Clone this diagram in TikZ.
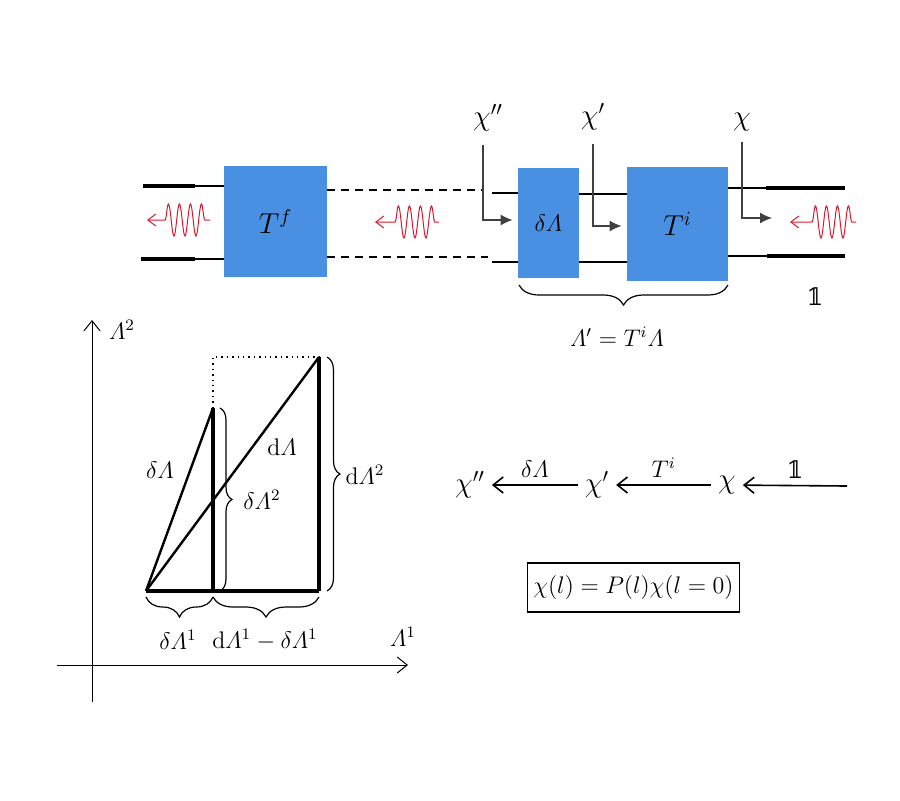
\documentclass[tikz,border=0pt]{standalone}
\usepackage{amsmath}
\usepackage{fontspec}
\newfontfamily\dsfont{DejaVu Serif}
\usetikzlibrary{arrows.meta,decorations.pathmorphing,decorations.pathreplacing,positioning}
\definecolor{blockblue}{RGB}{74,144,226}
\definecolor{wavered}{RGB}{215,25,45}
\newcommand{\Lam}{\varLambda}
\newcommand{\unitop}{\text{\dsfont 𝟙}}

\begin{document}
\begin{tikzpicture}[x=0.5pt,y=-0.5pt,font=\large]
\tikzset{block/.style={fill=blockblue,inner sep=0pt},
big/.style={font=\Large},
guide/.style={line width=0.6pt},
lead/.style={line width=1.6pt},
gap/.style={line width=0.8pt,dash pattern=on 4pt off 3pt},
probe/.style={line width=0.7pt,draw=black!75,-{Latex[length=6pt,width=5.5pt]}},
photon/.style={wavered,line width=0.5pt,{Straight Barb[length=4pt,width=6pt]}-,
decoration={snake,amplitude=8pt,segment length=5.5pt}},
axis/.style={line width=0.5pt,-{Straight Barb[length=5pt,width=8pt]}},
chain/.style={line width=0.8pt,-{Straight Barb[length=5pt,width=8pt]}},
edge/.style={line width=1.6pt},
slope/.style={line width=1.2pt},
curly/.style={line width=0.6pt,decorate,decoration={brace,amplitude=#1}},
}
\useasboundingbox (0,0) rectangle (900,800);

% --- scattering chain (top)
\node[block,big,minimum width=51.5pt,minimum height=55.5pt] (Tf) at (275.5,221.5) {$T^f$};
\node[block,minimum width=30.5pt,minimum height=55pt] (dL) at (548.5,223) {$\delta\Lam$};
\node[block,big,minimum width=50.5pt,minimum height=57pt] (Ti) at (677.5,224) {$T^i$};

\coordinate (inU) at (143,186);
\coordinate (inUk) at (195,186);
\coordinate (inD) at (141,259);
\coordinate (inDk) at (195,259);
\draw[lead] (inU) -- (inUk);
\draw[guide] (inUk) -- (Tf.west |- inUk);
\draw[lead] (inD) -- (inDk);
\draw[guide] (inDk) -- (Tf.west |- inDk);

\coordinate (gapU) at (483,190);
\coordinate (gapD) at (488,257);
\draw[gap] (Tf.east |- gapU) -- (gapU);
\draw[gap] (Tf.east |- gapD) -- (gapD);

\coordinate (stubU) at (492,193);
\coordinate (stubD) at (492,262);
\draw[guide] (stubU) -- (dL.west |- stubU);
\draw[guide] (stubD) -- (dL.west |- stubD);
\coordinate (midU) at (600,194);
\coordinate (midD) at (600,262);
\draw[guide] (dL.east |- midU) -- (Ti.west |- midU);
\draw[guide] (dL.east |- midD) -- (Ti.west |- midD);

\coordinate (outUk) at (766,188);
\coordinate (outU) at (845,188);
\coordinate (outDk) at (767,256);
\coordinate (outD) at (845,256);
\draw[guide] (Ti.east |- outUk) -- (outUk);
\draw[lead] (outUk) -- (outU);
\draw[guide] (Ti.east |- outDk) -- (outDk);
\draw[lead] (outDk) -- (outD);

% waves
\coordinate (wA) at (147,220);
\coordinate (wB) at (375,222);
\coordinate (wC) at (790,222);
\draw[photon] (wA) -- ++(18,0) decorate {-- ++(45,0)};
\draw[photon] (wB) -- ++(20,0) decorate {-- ++(44,0)};
\draw[photon] (wC) -- ++(22,0) decorate {-- ++(44,0)};

% probes
\node[big] (chiB) at (488,118) {$\chi''$};
\node[big] (chiA) at (593,117) {$\chi'$};
\node[big] (chiO) at (742,122) {$\chi$};
\coordinate (chiEnd) at (772,218);
\draw[probe] ([xshift=-2.5pt,yshift=-3pt]chiB.south) |- ([xshift=-2.5pt,yshift=1.5pt]dL.west);
\draw[probe] ([yshift=-3pt]chiA.south) |- ([xshift=-2.5pt,yshift=-1pt]Ti.west);
\draw[probe] ([yshift=-2pt]chiO.south) |- (chiEnd);

\node (unit) at (815,297) {$\unitop$};
\coordinate (brR) at (728,285);
\coordinate (brL) at (519,285);
\draw[curly=10pt] (brR) -- (brL);
\node (lamp) at (617,337) {$\Lam' = T^i\Lam$};

% --- parameter plane (bottom left)
\coordinate (yb) at (92,702);
\coordinate (yt) at (92,320);
\coordinate (xl) at (57,665);
\coordinate (xr) at (408,665);
\draw[axis] (yb) -- (yt);
\draw[axis] (xl) -- (xr);
\node (ax2) at (122,330) {$\Lam^2$};
\node (ax1) at (403,637) {$\Lam^1$};

\coordinate (O) at (146,591);
\coordinate (A) at (213,591);
\coordinate (B) at (319,591);
\coordinate (P) at (213,408);
\coordinate (Q) at (319,357);
\coordinate (R) at (213,357);
\draw[edge] (O) -- (B);
\draw[edge] (A) -- (P);
\draw[edge] (B) -- (Q);
\draw[slope] (O) -- (P);
\draw[slope] (O) -- (Q);
\draw[dotted,line width=0.7pt] (P) -- (R) -- (Q);

\draw[curly=6pt] ([xshift=3.5pt]P) -- ([xshift=3.5pt]A);
\draw[curly=6.5pt] ([xshift=4pt]Q) -- ([xshift=4pt]B);
\draw[curly=10pt] ([yshift=-3pt]A) -- ([yshift=-3pt]O);
\draw[curly=10pt] ([yshift=-3pt]B) -- ([yshift=-3pt]A);

\node (lsmall) at (160,470) {$\delta\Lam$};
\node (lbig) at (282,447) {$\mathrm{d}\Lam$};
\node (lsmall2) at (262,500) {$\delta\Lam^2$};
\node (lbig2) at (365,475) {$\mathrm{d}\Lam^2$};
\node (lsmall1) at (178,640) {$\delta\Lam^1$};
\node (lrest1) at (265,640) {$\mathrm{d}\Lam^1-\delta\Lam^1$};

% --- chain of states (bottom right)
\node[big] (st2) at (470,485) {$\chi''$};
\node[big] (st1) at (597,485) {$\chi'$};
\node[big] (st0) at (727,485) {$\chi$};
\coordinate (stIn) at (847,486);
\draw[chain] (st1) -- (st2) node[midway,above] (lab2) {$\delta\Lam$};
\draw[chain] (st0) -- (st1) node[midway,above] (lab1) {$T^i$};
\draw[chain] (stIn) -- (st0) node[midway,above] (lab0) {$\unitop$};

\node[draw,line width=0.6pt,inner xsep=3pt,minimum height=24.5pt] (law) at (633.5,587.5) {$\chi(l) = P(l)\chi(l=0)$};
\end{tikzpicture}
\end{document}
